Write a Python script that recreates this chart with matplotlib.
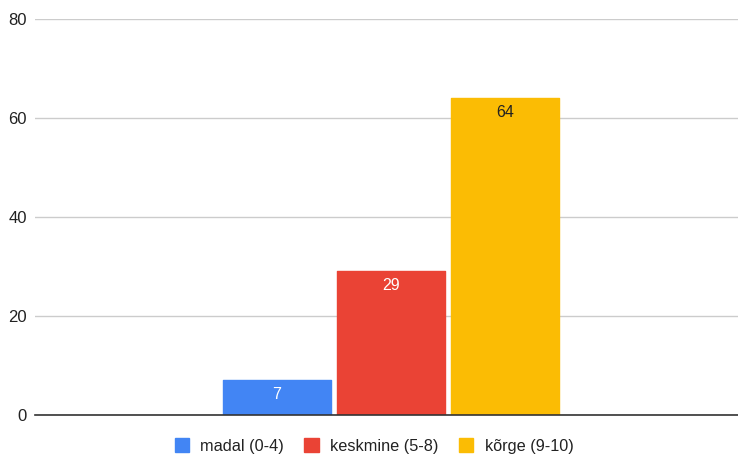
import matplotlib
matplotlib.use("Agg")
import matplotlib.pyplot as plt

categories = ["madal (0-4)", "keskmine (5-8)", "kõrge (9-10)"]
values = [7, 29, 64]
colors = ["#4285f4", "#ea4335", "#fbbc04"]
label_colors = ["white", "white", "#222222"]
yticks = [0, 20, 40, 60, 80]

plt.rcParams["font.family"] = ["Liberation Sans", "DejaVu Sans"]

fig = plt.figure(figsize=(7.38, 4.55), dpi=100)
ax = fig.add_axes([35 / 738, 40 / 455, 703 / 738, 396 / 455])

step = 114 / 703
width = 110 / 703
shift = 0.0064
for i, (cat, v, c, lc) in enumerate(zip(categories, values, colors, label_colors)):
    x = (i - 1) * step
    ax.bar(x, v, width=width - 2 / 703, color=c, edgecolor=c, linewidth=1.0,
           joinstyle="round", label=cat, zorder=3)
    ax.annotate(str(v), (x, v), xytext=(0, -10.3), textcoords="offset points",
                ha="center", va="center", color=lc, fontsize=11.5, zorder=4)

ax.set_xlim(-0.5 - shift, 0.5 - shift)
ax.set_ylim(0, 80)
ax.set_yticks(yticks)
ax.set_xticks([])
ax.grid(axis="y", color="#cccccc", linewidth=1, zorder=0)
for s in ["top", "right", "left"]:
    ax.spines[s].set_visible(False)
ax.spines["bottom"].set_color("#333333")
ax.spines["bottom"].set_linewidth(1.2)
ax.spines["bottom"].set_zorder(5)
ax.tick_params(axis="y", length=0, pad=6, labelsize=12, labelcolor="#222222")
ax.set_axisbelow(True)

leg = fig.legend(loc="center", bbox_to_anchor=(374 / 738, 1 - 446 / 455), ncol=3,
                 frameon=False, fontsize=11.7, handlelength=0.88, handleheight=0.88,
                 handletextpad=0.7, columnspacing=1.25)
for t in leg.get_texts():
    t.set_color("#222222")

fig.savefig("out.png", dpi=100)
